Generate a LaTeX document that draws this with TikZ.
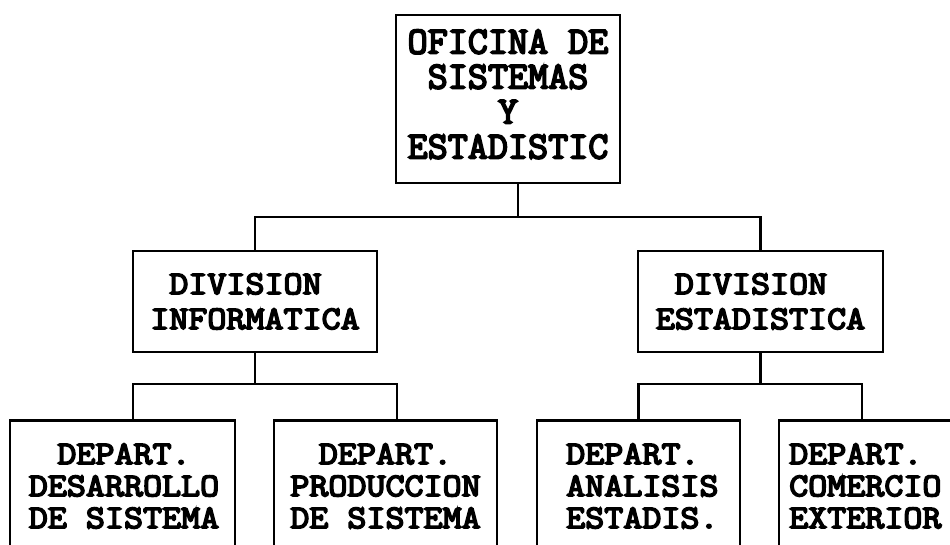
\documentclass[tikz,border=0pt]{standalone}
\usepackage{fontspec}
\usepackage{graphicx}
\newfontfamily\cour{Latin Modern Mono}[FakeBold=5,FakeStretch=1.12]
\begin{document}
\begin{tikzpicture}[x=1pt,y=-1pt,
  box/.style={draw, line width=2.6pt, inner sep=0pt},
  conn/.style={line width=2.2pt},
  divtxt/.style={font=\cour\fontsize{33}{35}\selectfont, align=center},
  deptxt/.style={font=\cour\fontsize{33}{32}\selectfont, inner sep=0pt}]
\useasboundingbox (0,0) rectangle (950,545);
\clip (0,0) rectangle (950,545);

% top box
\node[box, minimum width=224pt, minimum height=168pt,
      font=\cour\fontsize{34.8}{31.8}\selectfont] (top) at (508,99)
  {\scalebox{1}[1.1]{\begin{tabular}{@{}c@{}}OFICINA DE\\SISTEMAS\\Y\\ESTADISTIC\end{tabular}}};

% divisions
\node[box, divtxt, minimum width=244pt, minimum height=101pt] (div1) at (255,301.5)
  {DIVISION\hphantom{X}\\INFORMATICA};
\node[box, divtxt, minimum width=245pt, minimum height=101pt] (div2) at (760.5,301.5)
  {DIVISION\hphantom{X}\\ESTADISTICA};

% departments (boxes run off the page)
\node[box, minimum width=225pt, minimum height=200pt, anchor=north] (d1) at (122.5,419) {};
\node[box, minimum width=223pt, minimum height=200pt, anchor=north] (d2) at (385.5,419) {};
\node[box, minimum width=203pt, minimum height=200pt, anchor=north] (d3) at (638.5,419) {};
\node[box, minimum width=181pt, minimum height=200pt, anchor=north] (d4) at (869.5,419) {};

\node[deptxt, align=center] (t1) at (124,486) {DEPART.\\DESARROLLO\\DE SISTEMA};
\node[deptxt, align=center] (t2) at (385.5,486) {DEPART.\\PRODUCCION\\DE SISTEMA};
\node[deptxt, align=left, anchor=west] (t3) at (566,486) {DEPART.\\ANALISIS\\ESTADIS.};
\node[deptxt, align=left, anchor=west] (t4) at (789,486) {DEPART.\\COMERCIO\\EXTERIOR};

% connectors
\coordinate (j0) at (518,217);
\draw[conn] (top.south -| j0) -- (j0);
\draw[conn] (div1.north) |- (j0) -| (div2.north);

\draw[conn] (div1.south) -- ++(0,31) coordinate (j1);
\draw[conn] ([xshift=10.5pt]d1.north) |- (j1) -| ([xshift=11.5pt]d2.north);

\draw[conn] (div2.south) -- ++(0,31) coordinate (j2);
\draw[conn] (d3.north) |- (j2) -| ([xshift=-7.5pt]d4.north);
\end{tikzpicture}
\end{document}
